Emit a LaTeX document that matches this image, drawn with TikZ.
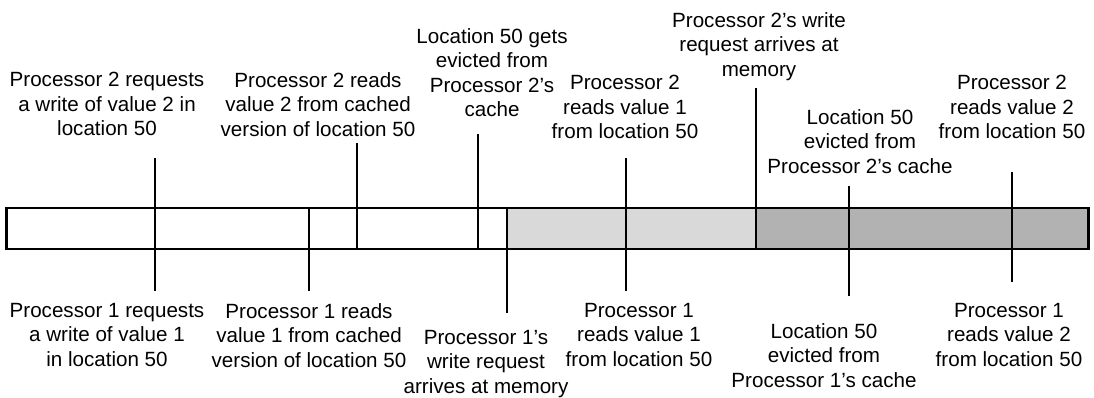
\documentclass[tikz,border=0pt]{standalone}
\usepackage{fontspec}
\setmainfont{Liberation Sans}
\usepackage{tikz}
\definecolor{memLight}{gray}{0.85}
\definecolor{memDark}{gray}{0.70}

\begin{document}
\begin{tikzpicture}[
            x=1bp, y=-1bp,
            every node/.style={font=\fontsize{20.6bp}{24.5bp}\selectfont, align=center, inner sep=0pt, anchor=north},
            tick/.style={line width=1.2bp, draw=black},
            bar/.style={line width=2.6bp, draw=black}
        ]
            \useasboundingbox (0,0) rectangle (1094,397);
            % memory bar
            \coordinate (barNW) at (6.5,208);
            \coordinate (barSE) at (1088.5,249);
            \coordinate (lightNW) at (507,208);
            \coordinate (darkNW) at (756,208);
            \fill[white] (barNW) rectangle (lightNW |- barSE);
            \fill[memLight] (lightNW) rectangle (darkNW |- barSE);
            \fill[memDark] (darkNW) rectangle (barSE);
            % event ticks
            \foreach \n/\x/\t/\b in {a/155/158/291, b/309/208/291, c/357/143/249, d/478/134/249,
                    e/507/208/313, f/626/158/291, g/756/88/249, h/849/186/296, i/1012/172/282} {
                \coordinate (\n top) at (\x,\t);
                \coordinate (\n bot) at (\x,\b);
                \draw[tick] (\n top) -- (\n bot);
            }
            \draw[bar] (barNW) rectangle (barSE);
            % processor 2 (above)
            \node (wrReq2) at (107,72) {Processor 2 requests\\a write of value 2 in\\location 50};
            \node (rdCache2) at (318,72) {Processor 2 reads\\value 2 from cached\\version of location 50};
            \node (evict2a) at (492,28) {Location 50 gets\\evicted from\\Processor 2's\\cache};
            \node (rd2v1) at (625,75) {Processor 2\\reads value 1\\from location 50};
            \node (arrive2) at (759,12) {Processor 2's write\\request arrives at\\memory};
            \node (evict2b) at (860,109) {Location 50\\evicted from\\Processor 2's cache};
            \node (rd2v2) at (1012,75) {Processor 2\\reads value 2\\from location 50};
            % processor 1 (below)
            \node (wrReq1) at (107,303) {Processor 1 requests\\a write of value 1\\in location 50};
            \node (rdCache1) at (309,303) {Processor 1 reads\\value 1 from cached\\version of location 50};
            \node (arrive1) at (486,330) {Processor 1's\\write request\\arrives at memory};
            \node (rd1v1) at (639,303) {Processor 1\\reads value 1\\from location 50};
            \node (evict1) at (824,323) {Location 50\\evicted from\\Processor 1's cache};
            \node (rd1v2) at (1009,303) {Processor 1\\reads value 2\\from location 50};
        \end{tikzpicture}
\end{document}
